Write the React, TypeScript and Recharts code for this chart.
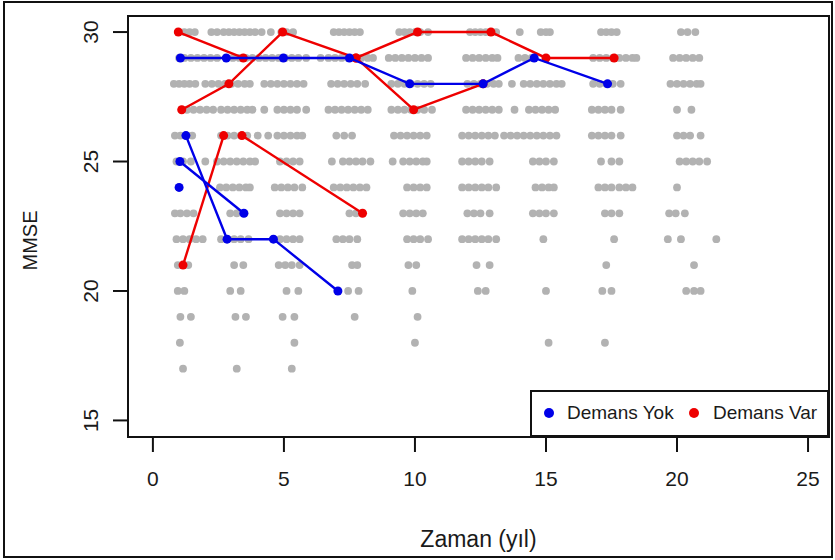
import React from 'react';
import { ScatterChart, Scatter, XAxis, YAxis, ReferenceArea, Legend } from 'recharts';

// ---------- data ----------
const xTicks = [0, 5, 10, 15, 20, 25];
const yTicks = [15, 20, 25, 30];

// grey background observations: x values (years) per MMSE score
const grey30 = [0.97, 1.2, 1.4, 1.6, 2.23, 2.45, 2.7, 2.9, 3.1, 3.3, 3.5, 3.7, 3.9, 4.15, 4.5, 4.9, 5.1, 5.35, 6.9, 7.1, 7.3, 7.5, 7.7, 7.9, 9.4, 9.6, 9.8, 10.0, 10.2, 10.5, 12.1, 12.3, 12.5, 12.7, 12.9, 13.1, 14.0, 14.8, 15.0, 15.15, 17.1, 17.3, 17.5, 17.7, 20.15, 20.4, 20.7];
const grey29 = [1.0, 1.2, 1.45, 1.7, 1.95, 2.2, 2.45, 2.8, 3.05, 3.3, 3.55, 3.8, 4.05, 4.3, 4.55, 4.8, 5.05, 5.3, 5.55, 5.85, 6.4, 6.7, 6.95, 7.2, 7.45, 7.7, 7.95, 8.2, 8.4, 9.0, 9.25, 9.5, 9.75, 10.0, 10.25, 10.5, 11.95, 12.2, 12.45, 12.7, 12.95, 13.15, 13.95, 14.2, 14.45, 16.8, 17.05, 17.3, 17.55, 17.8, 18.05, 18.3, 18.45, 19.85, 20.1, 20.35, 20.6, 20.85];
const grey28 = [0.8, 1.0, 1.2, 1.4, 1.62, 2.0, 2.25, 2.5, 2.75, 3.0, 3.25, 3.5, 3.7, 4.25, 4.5, 4.75, 5.0, 5.25, 5.5, 5.75, 6.8, 7.05, 7.3, 7.55, 7.8, 8.1, 9.1, 9.35, 9.6, 9.85, 10.1, 10.35, 10.6, 12.0, 12.25, 12.5, 12.75, 13.0, 13.2, 13.7, 14.15, 14.4, 14.65, 14.9, 15.15, 15.4, 15.6, 16.8, 17.05, 17.3, 17.55, 17.85, 19.75, 20.0, 20.25, 20.5, 20.75, 20.9];
const grey27 = [1.1, 1.3, 1.55, 1.8, 2.05, 2.3, 2.6, 2.85, 3.1, 3.35, 3.6, 3.8, 4.25, 4.75, 5.0, 5.25, 5.5, 5.85, 6.7, 6.95, 7.2, 7.45, 7.7, 7.95, 8.2, 9.1, 9.35, 9.6, 9.85, 10.1, 10.35, 10.65, 11.95, 12.2, 12.45, 12.7, 12.95, 13.2, 13.8, 14.35, 14.6, 14.85, 15.1, 15.35, 16.75, 17.0, 17.25, 17.5, 17.85, 20.0, 20.55];
const grey26 = [0.84, 1.05, 1.3, 1.5, 2.6, 2.85, 3.1, 3.35, 3.6, 4.0, 4.4, 4.75, 5.0, 5.25, 5.5, 5.7, 7.0, 7.3, 7.6, 9.2, 9.45, 9.7, 9.95, 10.2, 10.45, 11.8, 12.05, 12.3, 12.55, 12.8, 13.05, 13.4, 13.65, 13.9, 14.15, 14.4, 14.65, 14.9, 15.15, 15.4, 16.75, 17.0, 17.25, 17.5, 17.85, 20.0, 20.25, 20.5, 20.9];
const grey25 = [0.9, 1.15, 1.45, 2.0, 2.45, 2.7, 2.95, 3.2, 3.45, 3.7, 3.9, 4.85, 5.1, 5.35, 5.6, 6.83, 7.25, 7.5, 7.75, 8.0, 8.3, 9.15, 9.55, 9.8, 10.05, 10.3, 10.45, 11.8, 12.05, 12.3, 12.55, 12.85, 14.5, 14.75, 15.0, 15.3, 17.1, 17.5, 17.8, 20.1, 20.35, 20.6, 20.85, 21.15];
const grey24 = [1.0, 2.56, 2.8, 3.05, 3.3, 3.55, 3.7, 4.65, 4.9, 5.15, 5.4, 5.7, 6.9, 7.15, 7.4, 7.65, 7.9, 8.15, 9.7, 9.95, 10.2, 10.45, 11.8, 12.05, 12.3, 12.55, 12.8, 13.1, 14.6, 14.85, 15.1, 15.3, 17.0, 17.25, 17.5, 17.8, 18.05, 18.3, 20.0];
const grey23 = [0.84, 1.05, 1.3, 1.55, 2.95, 3.2, 3.5, 4.85, 5.1, 5.35, 5.6, 7.5, 7.75, 9.55, 9.8, 10.05, 10.3, 12.0, 12.25, 12.5, 12.85, 14.5, 14.75, 15.0, 15.3, 17.25, 17.5, 17.8, 19.7, 19.95, 20.3];
const grey22 = [0.9, 1.15, 1.4, 1.65, 1.9, 2.6, 2.85, 3.1, 3.35, 3.65, 4.6, 4.85, 5.1, 5.35, 5.6, 7.0, 7.25, 7.5, 7.8, 9.7, 9.95, 10.2, 10.5, 11.8, 12.05, 12.3, 12.55, 12.8, 13.1, 14.9, 17.6, 19.65, 20.15, 21.5];
const grey21 = [0.95, 1.15, 1.35, 3.1, 3.45, 4.8, 5.05, 5.3, 5.6, 7.6, 7.8, 9.75, 10.05, 12.35, 12.85, 17.3, 20.65];
const grey20 = [0.95, 1.2, 2.95, 3.35, 5.1, 5.55, 7.45, 7.85, 9.9, 12.4, 12.7, 15.0, 17.15, 17.5, 20.35, 20.65, 20.9];
const grey19 = [1.05, 1.45, 3.15, 3.55, 4.95, 5.4, 7.7, 10.1];
const grey18 = [1.03, 5.4, 10.0, 15.1, 17.25];
const grey17 = [1.15, 3.2, 5.3];

const greyRows: [number, number[]][] = [
  [30, grey30], [29, grey29], [28, grey28], [27, grey27], [26, grey26], [25, grey25], [24, grey24],
  [23, grey23], [22, grey22], [21, grey21], [20, grey20], [19, grey19], [18, grey18], [17, grey17],
];

// individual trajectories: [time, MMSE]
const yok1: [number, number][] = [[1.05, 29], [2.8, 29], [4.98, 29], [7.5, 29], [9.8, 28], [12.6, 28], [14.55, 29], [17.35, 28]];
const yok2: [number, number][] = [[1.26, 26], [2.83, 22], [4.6, 22], [7.06, 20]];
const yok3: [number, number][] = [[1.03, 25], [3.47, 23]];
const yok4: [number, number][] = [[1.0, 24]];

const var1: [number, number][] = [[1.1, 27], [2.9, 28], [4.95, 30], [7.75, 29], [10.1, 30], [12.9, 30], [15.0, 29], [17.6, 29]];
const var2: [number, number][] = [[0.97, 30], [3.45, 29]];
const var3: [number, number][] = [[7.75, 29], [9.95, 27], [12.6, 28]];
const var4: [number, number][] = [[1.15, 21], [2.7, 26]];
const var5: [number, number][] = [[3.4, 26], [8.0, 23]];

const yokSeries = [yok1, yok2, yok3, yok4];
const varSeries = [var1, var2, var3, var4, var5];

const legendLabels = ['Demans Yok', 'Demans Var'];

// ---------- styling ----------
const FONT = '"Liberation Sans", Arial, Helvetica, sans-serif';
const GREY = '#b2b2b2';
const BLUE = '#0000e8';
const RED = '#ee0000';
const INK = '#1a1a1a';
const X_DOMAIN: [number, number] = [-0.95, 25.8];
const Y_DOMAIN: [number, number] = [14.36, 30.62];

const toPts = (arr: [number, number][]) => arr.map(([x, y]) => ({ x, y }));
const greyPoints = greyRows.flatMap(([y, xs]) => xs.map((x) => ({ x, y })));

const makeDot = (color: string, r: number) => (p: any) =>
  p.cx == null ? <g /> : <circle cx={p.cx} cy={p.cy} r={r} fill={color} />;

const greyDot = makeDot(GREY, 3.9);
const blueDot = makeDot(BLUE, 4.5);
const redDot = makeDot(RED, 4.5);

const YTick = (props: any) => {
  const { x, y, payload } = props;
  return (
    <text x={x} y={y} transform={`rotate(-90 ${x} ${y})`} textAnchor="middle" fontSize={21} fill={INK} fontFamily={FONT}>
      {payload.value}
    </text>
  );
};

const YTitle = (props: any) => {
  const vb = props.viewBox || { x: 0, y: 0, width: 0, height: 0 };
  const x = vb.x + 37;
  const y = vb.y + vb.height / 2 + 14;
  return (
    <text x={x} y={y} transform={`rotate(-90 ${x} ${y})`} textAnchor="middle" fontSize={20} fill={INK} fontFamily={FONT}>
      MMSE
    </text>
  );
};

const LegendBox = () => (
  <div
    style={{
      position: 'relative',
      width: 299,
      height: 47,
      boxSizing: 'border-box',
      border: '2px solid #111',
      background: '#fff',
      fontFamily: FONT,
      fontSize: 19,
      color: INK,
    }}
  >
    {legendLabels.map((label, i) => (
      <React.Fragment key={label}>
        <div
          style={{
            position: 'absolute',
            left: i === 0 ? 12 : 157,
            top: 16,
            width: 10,
            height: 10,
            borderRadius: '50%',
            background: i === 0 ? BLUE : RED,
          }}
        />
        <div style={{ position: 'absolute', left: i === 0 ? 35 : 181, top: 9, lineHeight: '24px', whiteSpace: 'nowrap' }}>
          {label}
        </div>
      </React.Fragment>
    ))}
  </div>
);

export default function App() {
  return (
    <div style={{ position: 'absolute', left: 0, top: 0, width: 835, height: 560, background: '#fff' }}>
      <div
        style={{
          position: 'absolute',
          left: 3,
          top: 1,
          width: 830,
          height: 557,
          boxSizing: 'border-box',
          border: '2px solid #111',
        }}
      />
      <div style={{ position: 'absolute', left: 0, top: 0 }}>
        <ScatterChart width={835} height={560} margin={{ top: 16, right: 6, bottom: 8, left: 0 }}>
          <XAxis
            type="number"
            dataKey="x"
            domain={X_DOMAIN}
            ticks={xTicks}
            allowDataOverflow
            height={115}
            tickSize={15}
            tickMargin={19}
            axisLine={false}
            tickLine={{ stroke: '#111', strokeWidth: 2 }}
            tick={{ fill: INK, fontSize: 21, fontFamily: FONT }}
            label={{ value: 'Zaman (yıl)', position: 'insideBottom', offset: 5, fill: INK, fontSize: 23, fontFamily: FONT }}
          />
          <YAxis
            type="number"
            dataKey="y"
            domain={Y_DOMAIN}
            ticks={yTicks}
            allowDataOverflow
            width={128}
            tickSize={15}
            tickMargin={15}
            axisLine={false}
            tickLine={{ stroke: '#111', strokeWidth: 2 }}
            tick={<YTick />}
            label={{ content: <YTitle /> }}
          />
          <ReferenceArea
            x1={X_DOMAIN[0]}
            x2={X_DOMAIN[1]}
            y1={Y_DOMAIN[0]}
            y2={Y_DOMAIN[1]}
            fill="none"
            stroke="#111"
            strokeWidth={2}
            ifOverflow="visible"
          />
          <Scatter data={greyPoints} fill={GREY} shape={greyDot} isAnimationActive={false} />
          {varSeries.map((s, i) => (
            <Scatter
              key={'v' + i}
              data={toPts(s)}
              fill={RED}
              line={{ stroke: RED, strokeWidth: 2.4 }}
              shape={redDot}
              isAnimationActive={false}
            />
          ))}
          {yokSeries.map((s, i) => (
            <Scatter
              key={'y' + i}
              data={toPts(s)}
              fill={BLUE}
              line={{ stroke: BLUE, strokeWidth: 2.4 }}
              shape={blueDot}
              isAnimationActive={false}
            />
          ))}
          <Legend
            layout="horizontal"
            verticalAlign="middle"
            align="center"
            wrapperStyle={{ left: 530, top: 390, width: 299, height: 47 }}
            content={() => <LegendBox />}
          />
        </ScatterChart>
      </div>
    </div>
  );
}
